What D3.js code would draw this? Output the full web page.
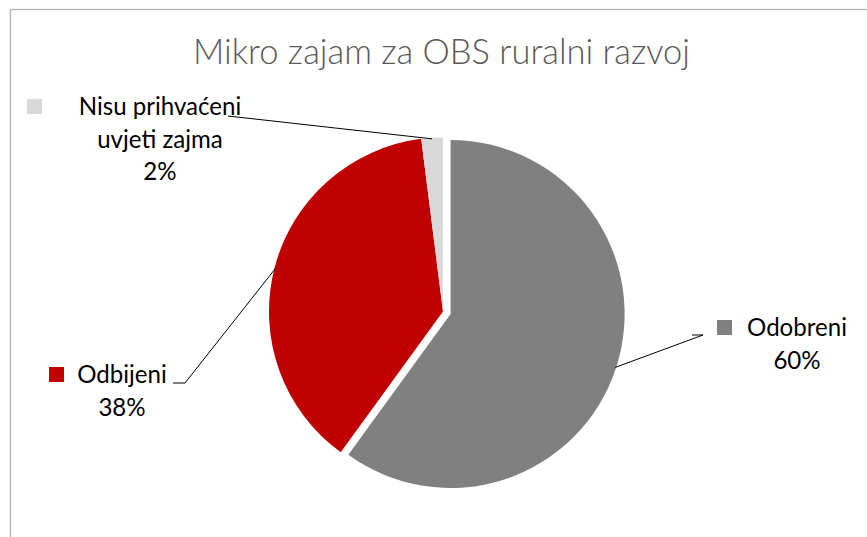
<!DOCTYPE html>
<html>
<head>
<meta charset="utf-8">
<script src="https://cdn.jsdelivr.net/npm/d3@7"></script>
<style>
  body { margin: 0; background: #fff; }
</style>
</head>
<body>
<div id="chart"></div>
<script>
// data for the pie
const title = "Mikro zajam za OBS ruralni razvoj";
const categories = ["Odobreni", "Odbijeni", "Nisu prihvaćeni uvjeti zajma"];
const values = [60, 38, 2];
const percentLabels = ["60%", "38%", "2%"];
const labelLines = [["Odobreni"], ["Odbijeni"], ["Nisu prihvaćeni", "uvjeti zajma"]];
const colors = ["#808080", "#C00000", "#D9D9D9"];

// size and layout
const width = 867;
const height = 537;
const cx = 443, cy = 311.5, radius = 174;
const explode = [8, 0, 0];

// label placement (centre of text, first baseline, key x, leader elbow)
const labelCx = [797, 122, 160];
const labelY = [336, 383, 115];
const keyX = [717, 49, 27];
const lineH = 32.5;
const leaderEnds = [[[703, 335], [692, 335]], [[185, 383], [173, 383]], [[228, 116]]];

const svg = d3.select("#chart")
  .append("svg")
  .attr("width", width)
  .attr("height", height)
  .attr("viewBox", [0, 0, width, height]);

// chart border (goes off the right and bottom edge)
svg.append("rect")
  .attr("x", 10.5)
  .attr("y", 9.5)
  .attr("width", width + 20)
  .attr("height", height + 20)
  .attr("fill", "#fff")
  .attr("stroke", "#b3b3b3")
  .attr("stroke-width", 1.3);

const labelFont = "Lato, 'Open Sans', sans-serif";

// fit font size so a word has the same width as in the picture
function fitSize(text, target, weight) {
  const t = svg.append("text")
    .attr("font-family", labelFont)
    .attr("font-weight", weight)
    .attr("font-size", 100)
    .text(text);
  const w = t.node().getComputedTextLength();
  t.remove();
  return 100 * target / w;
}

const titleSize = fitSize(title, 497, 300);
const labelSize = fitSize("Odobreni", 100, 400);

svg.append("text")
  .attr("x", 441.5)
  .attr("y", 64)
  .attr("text-anchor", "middle")
  .attr("font-family", labelFont)
  .attr("font-weight", 300)
  .attr("font-size", titleSize)
  .attr("fill", "#595959")
  .text(title);

const pie = d3.pie().sort(null).value(d => d)(values);
const arc = d3.arc().innerRadius(0).outerRadius(radius);

// offset of a slice along its middle angle
function offset(d, i, r) {
  const a = (d.startAngle + d.endAngle) / 2;
  return [cx + (explode[i] + r) * Math.sin(a), cy - (explode[i] + r) * Math.cos(a)];
}

svg.append("g")
  .selectAll("path")
  .data(pie)
  .join("path")
  .attr("transform", (d, i) => `translate(${offset(d, i, 0)})`)
  .attr("d", arc)
  .attr("fill", (d, i) => colors[i]);

// leader lines
svg.append("g")
  .selectAll("polyline")
  .data(pie)
  .join("polyline")
  .attr("points", (d, i) => [offset(d, i, radius - 1)].concat(leaderEnds[i]).map(p => p.join(",")).join(" "))
  .attr("fill", "none")
  .attr("stroke", "#000")
  .attr("stroke-width", 1);

// data labels
const lab = svg.append("g")
  .selectAll("g")
  .data(pie)
  .join("g");

lab.append("rect")
  .attr("x", (d, i) => keyX[i])
  .attr("y", (d, i) => labelY[i] - 16)
  .attr("width", 15)
  .attr("height", 15)
  .attr("fill", (d, i) => colors[i]);

lab.append("text")
  .attr("font-family", labelFont)
  .attr("font-size", labelSize)
  .attr("fill", "#000")
  .attr("text-anchor", "middle")
  .selectAll("tspan")
  .data((d, i) => labelLines[i].concat([percentLabels[i]]).map((t, k) => ({ t, k, i })))
  .join("tspan")
  .attr("x", d => labelCx[d.i])
  .attr("y", d => labelY[d.i] + d.k * lineH)
  .text(d => d.t);
</script>
</body>
</html>
